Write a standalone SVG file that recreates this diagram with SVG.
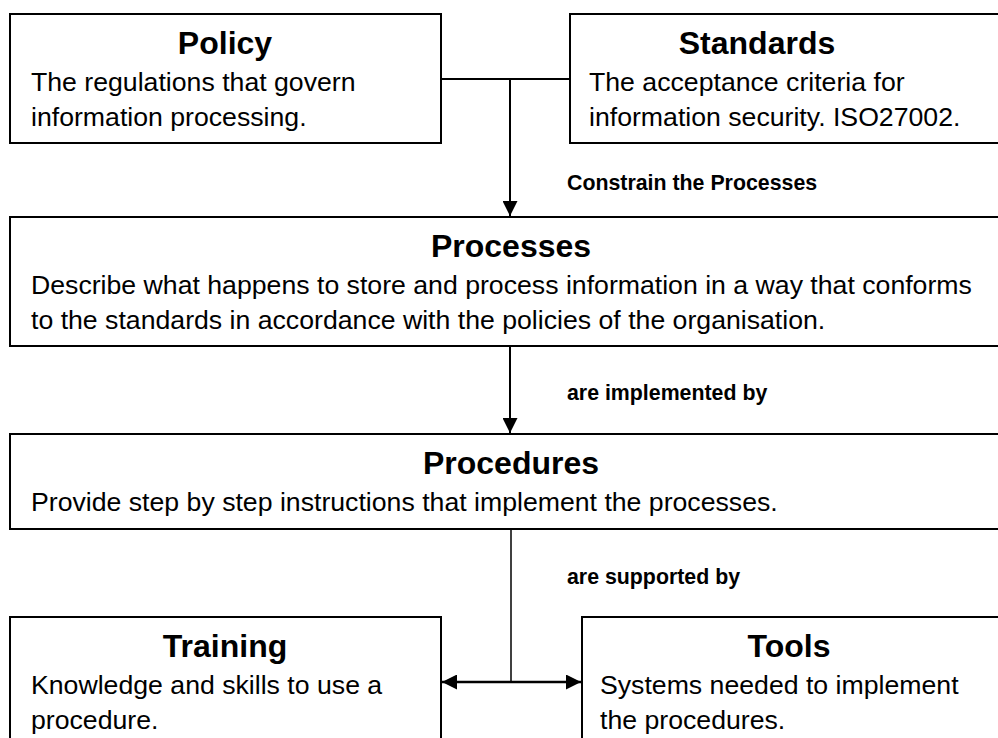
<svg xmlns="http://www.w3.org/2000/svg" width="998" height="738" viewBox="0 0 998 738">
  <style>
    .box { fill: #ffffff; stroke: #000000; stroke-width: 2; }
    .title { font-family: "Liberation Sans", Arial, sans-serif; font-size: 32px; font-weight: bold; fill: #000000; text-anchor: middle; }
    .body { font-family: "Liberation Sans", Arial, sans-serif; font-size: 26.67px; fill: #000000; }
    .label { font-family: "Liberation Sans", Arial, sans-serif; font-size: 21.33px; font-weight: bold; fill: #000000; }
    .wire { fill: none; stroke: #000000; stroke-width: 2; }
  </style>
  <defs>
    <marker id="arrow" viewBox="0 0 10 10" refX="10" refY="5" markerWidth="15" markerHeight="15" markerUnits="userSpaceOnUse" orient="auto-start-reverse">
      <path d="M0,0 L10,5 L0,10 Z" fill="#000000"/>
    </marker>
  </defs>
  <rect x="0" y="0" width="998" height="738" fill="#ffffff"/>

  <g id="connectors">
    <path class="wire" d="M441,79 H570"/>
    <path class="wire" d="M510,79 V216" marker-end="url(#arrow)"/>
    <path class="wire" d="M510,346 V433" marker-end="url(#arrow)"/>
    <path class="wire" d="M511,529 V682" style="stroke-width:1.5"/>
    <path class="wire" d="M442,682 H581" style="stroke-width:2.5" marker-start="url(#arrow)" marker-end="url(#arrow)"/>
    <text class="label" x="567" y="190">Constrain the Processes</text>
    <text class="label" x="567" y="400">are implemented by</text>
    <text class="label" x="567" y="584">are supported by</text>
  </g>

  <g id="policy">
    <rect class="box" x="10" y="14" width="431" height="129"/>
    <text class="title" x="225" y="54">Policy</text>
    <text class="body" x="31" y="91">The regulations that govern</text>
    <text class="body" x="31" y="126">information processing.</text>
  </g>

  <g id="standards">
    <rect class="box" x="570" y="14" width="440" height="129"/>
    <text class="title" x="757" y="54">Standards</text>
    <text class="body" x="589" y="91">The acceptance criteria for</text>
    <text class="body" x="589" y="126">information security. ISO27002.</text>
  </g>

  <g id="processes">
    <rect class="box" x="10" y="217" width="1002" height="129"/>
    <text class="title" x="511" y="257">Processes</text>
    <text class="body" x="31" y="294">Describe what happens to store and process information in a way that conforms</text>
    <text class="body" x="31" y="329">to the standards in accordance with the policies of the organisation.</text>
  </g>

  <g id="procedures">
    <rect class="box" x="10" y="434" width="1002" height="95"/>
    <text class="title" x="511" y="474">Procedures</text>
    <text class="body" x="31" y="511">Provide step by step instructions that implement the processes.</text>
  </g>

  <g id="training">
    <rect class="box" x="10" y="617" width="431" height="140"/>
    <text class="title" x="225" y="657">Training</text>
    <text class="body" x="31" y="694">Knowledge and skills to use a</text>
    <text class="body" x="31" y="729">procedure.</text>
  </g>

  <g id="tools">
    <rect class="box" x="582" y="617" width="440" height="140"/>
    <text class="title" x="789" y="657">Tools</text>
    <text class="body" x="600" y="694">Systems needed to implement</text>
    <text class="body" x="600" y="729">the procedures.</text>
  </g>
</svg>
